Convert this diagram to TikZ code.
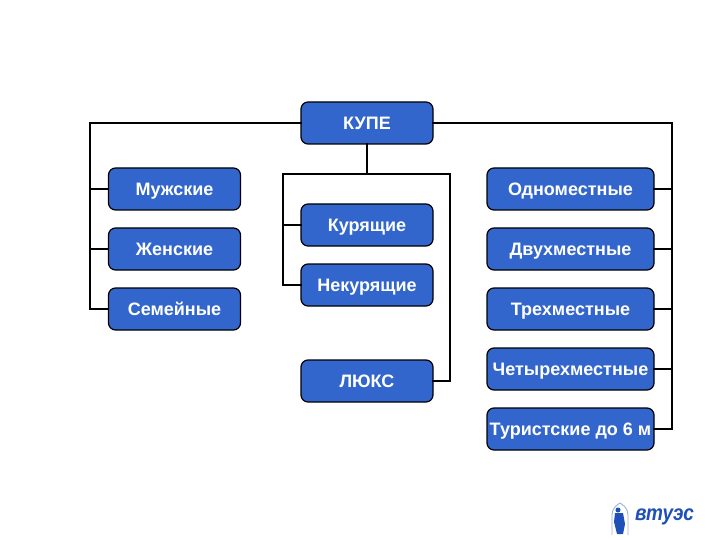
\documentclass[tikz,border=0pt]{standalone}
\usepackage{fontspec}
\setmainfont{Liberation Sans}
\definecolor{boxblue}{HTML}{3366CC}
\definecolor{logoblue}{HTML}{1F50B8}
\begin{document}
\begin{tikzpicture}[x=1pt,y=-1pt,
  boxa/.style={draw=black,line width=1.2pt,fill=boxblue,rounded corners=7pt,minimum width=132pt,minimum height=42pt,inner sep=0pt,text height=13.5pt,text depth=0pt,text=white,font=\fontsize{18}{18}\selectfont\bfseries},
  boxb/.style={boxa,minimum width=167pt},
  conn/.style={draw=black,line width=2.6pt,line cap=rect}]
\useasboundingbox (0,0) rectangle (720,540);
\fill[white] (0,0) rectangle (720,540);
% junction coordinates
\coordinate (lt) at (90,123);
\coordinate (rt) at (672,123);
\coordinate (mj) at (366,174);
\coordinate (ml) at (283,174);
\coordinate (mr) at (450,174);
% nodes
\node[boxa] (kupe) at (367,123) {КУПЕ};
\node[boxa] (muzh) at (174.5,189) {Мужские};
\node[boxa] (zhen) at (174.5,249) {Женские};
\node[boxa] (sem) at (174.5,309) {Семейные};
\node[boxa] (kur) at (367,225) {Курящие};
\node[boxa] (nekur) at (367,285) {Некурящие};
\node[boxa] (lux) at (367,381) {ЛЮКС};
\node[boxb] (r1) at (570.5,189) {Одноместные};
\node[boxb] (r2) at (570.5,249) {Двухместные};
\node[boxb] (r3) at (570.5,309) {Трехместные};
\node[boxb] (r4) at (570.5,369) {Четырехместные};
\node[boxb] (r5) at (570.5,429) {Туристские до 6 м};
% connectors
\path[conn] (kupe.west) -- (lt) -- (lt |- sem.west) -- (sem.west);
\path[conn] (muzh.west) -- (muzh.west -| lt);
\path[conn] (zhen.west) -- (zhen.west -| lt);
\path[conn] (kupe.east) -- (rt) -- (rt |- r5.east) -- (r5.east);
\path[conn] (r1.east) -- (r1.east -| rt);
\path[conn] (r2.east) -- (r2.east -| rt);
\path[conn] (r3.east) -- (r3.east -| rt);
\path[conn] (r4.east) -- (r4.east -| rt);
\path[conn] (kupe.south) -- (kupe.south |- mj);
\path[conn] (nekur.west) -- (nekur.west -| ml) -- (ml) -- (mr) -- (mr |- lux.east) -- (lux.east);
\path[conn] (kur.west) -- (kur.west -| ml);
% logo
\draw[logoblue!45,line width=0.9pt] (612,535) -- (612,515) .. controls (612,508) and (617,505) .. (620,503) .. controls (623,505) and (628,508) .. (628,515) -- (628,535);
\fill[logoblue] (618,510) circle (2.5) (615,513) -- (623,513) -- (625,524) -- (623,534) -- (617,534) -- (614,522) -- cycle;
\node[inner sep=0pt,anchor=center,text=logoblue,yscale=1.15] (logo) at (664.5,517) {\fontsize{19}{20}\selectfont\bfseries\itshape втуэс};
\end{tikzpicture}
\end{document}
